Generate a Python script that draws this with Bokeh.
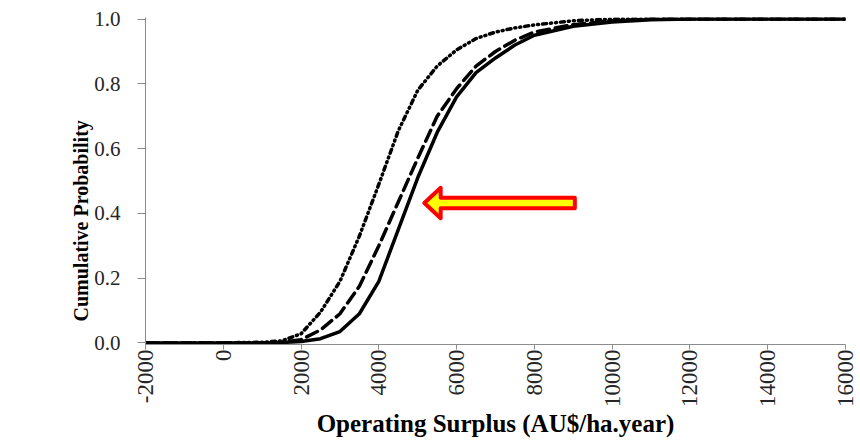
import math
from bokeh.plotting import figure
from bokeh.models import FixedTicker, PrintfTickFormatter, Range1d, Title, LinearAxis
from bokeh.embed import file_html
from bokeh.resources import INLINE

# ---- data ----
surplus_solid = [-2000, 0, 1000, 1500, 2000, 2500, 3000, 3500, 4000, 4500, 5000, 5500,
                 6000, 6500, 7000, 7500, 8000, 9000, 10000, 11000, 12000, 16000]
prob_solid = [0, 0, 0, 0.001, 0.004, 0.013, 0.035, 0.09, 0.19, 0.35, 0.51, 0.65,
              0.76, 0.835, 0.88, 0.92, 0.95, 0.978, 0.991, 0.998, 1.0, 1.0]

surplus_dashed = [-2000, 0, 1000, 1500, 2000, 2500, 3000, 3500, 4000, 4500, 5000, 5500,
                  6000, 6500, 7000, 7500, 8000, 9000, 10000, 11000, 16000]
prob_dashed = [0, 0, 0, 0.002, 0.01, 0.04, 0.09, 0.175, 0.30, 0.435, 0.57, 0.70,
               0.785, 0.855, 0.90, 0.935, 0.96, 0.983, 0.995, 1.0, 1.0]

surplus_dotted = [-2000, 0, 1000, 1500, 2000, 2500, 3000, 3500, 4000, 4500, 5000, 5500,
                  6000, 6500, 7000, 7500, 8000, 9000, 10000, 16000]
prob_dotted = [0, 0, 0.002, 0.006, 0.028, 0.095, 0.19, 0.33, 0.49, 0.655, 0.78, 0.855,
               0.905, 0.94, 0.96, 0.973, 0.982, 0.995, 1.0, 1.0]

x_ticks = [-2000, 0, 2000, 4000, 6000, 8000, 10000, 12000, 14000, 16000]
x_tick_labels = {t: str(t) for t in x_ticks}
y_ticks = [0.0, 0.2, 0.4, 0.6, 0.8, 1.0]

x_title = "Operating Surplus (AU$/ha.year)"
y_title = "Cumulative Probability"

# arrow annotation (tip position, tail position, in data units)
arrow_tip_x, arrow_tail_x, arrow_y = 5170, 9040, 0.432
arrow_head_len, arrow_shaft_half, arrow_head_half = 420, 0.016, 0.047

SERIF = "Liberation Serif"

p = figure(width=858, height=440, output_backend="svg", toolbar_location=None,
           x_range=Range1d(-2000, 16000), y_range=Range1d(-0.005, 1.005),
           min_border_left=145, min_border_right=13, min_border_top=17, min_border_bottom=95)
p.outline_line_color = None
p.xgrid.visible = False
p.ygrid.visible = False
p.background_fill_color = "white"
p.border_fill_color = "white"

# curves
p.line(surplus_solid, prob_solid, line_color="black", line_width=3.5, line_join="round")
p.line(surplus_dashed, prob_dashed, line_color="black", line_width=3.5,
       line_dash="12 6", line_cap="round")
p.line(surplus_dotted, prob_dotted, line_color="black", line_width=3.5,
       line_dash="4 4 1 4 1 4", line_cap="round")

# arrow
ax = [arrow_tip_x, arrow_tip_x + arrow_head_len, arrow_tip_x + arrow_head_len, arrow_tail_x,
      arrow_tail_x, arrow_tip_x + arrow_head_len, arrow_tip_x + arrow_head_len]
ay = [arrow_y, arrow_y + arrow_head_half, arrow_y + arrow_shaft_half, arrow_y + arrow_shaft_half,
      arrow_y - arrow_shaft_half, arrow_y - arrow_shaft_half, arrow_y - arrow_head_half]
p.patch(ax, ay, fill_color="#ffff00", line_color="#ff0000", line_width=4, line_join="round")

# axes
for axis in (p.xaxis[0], p.yaxis[0]):
    axis.axis_line_color = "#8c8c8c"
    axis.major_tick_line_color = "#8c8c8c"
    axis.minor_tick_line_color = None
    axis.major_tick_in = 0
    axis.major_label_text_font = SERIF
    axis.major_label_text_color = "#262626"
    axis.major_label_text_font_style = "normal"

p.xaxis.ticker = FixedTicker(ticks=x_ticks)
p.xaxis.major_label_overrides = x_tick_labels
p.xaxis.major_tick_out = 5
p.xaxis.major_label_orientation = math.pi / 2
p.xaxis.major_label_text_font_size = "23px"
p.xaxis.major_label_standoff = 0
p.xaxis.axis_label = x_title
p.xaxis.axis_label_text_font = SERIF
p.xaxis.axis_label_text_font_style = "bold"
p.xaxis.axis_label_text_font_size = "25px"
p.xaxis.axis_label_text_color = "black"
p.xaxis.axis_label_standoff = 0

p.yaxis.ticker = FixedTicker(ticks=y_ticks)
p.yaxis.formatter = PrintfTickFormatter(format="%.1f")
p.yaxis.major_tick_out = 8
p.yaxis.major_label_text_font_size = "21px"
p.yaxis.major_label_standoff = 17

# invisible spacer between the y axis and its title
spacer = LinearAxis(ticker=FixedTicker(ticks=[]), axis_line_color=None,
                    major_tick_line_color="white", minor_tick_line_color=None,
                    major_tick_in=0, major_tick_out=51, minor_tick_out=0,
                    major_label_text_color=None)
p.add_layout(spacer, "left")

p.add_layout(Title(text=y_title, align="left", offset=23, standoff=0,
                   text_font=SERIF, text_font_style="bold", text_font_size="20px",
                   text_color="black"), "left")

open("out.html", "w").write(file_html(p, INLINE))
